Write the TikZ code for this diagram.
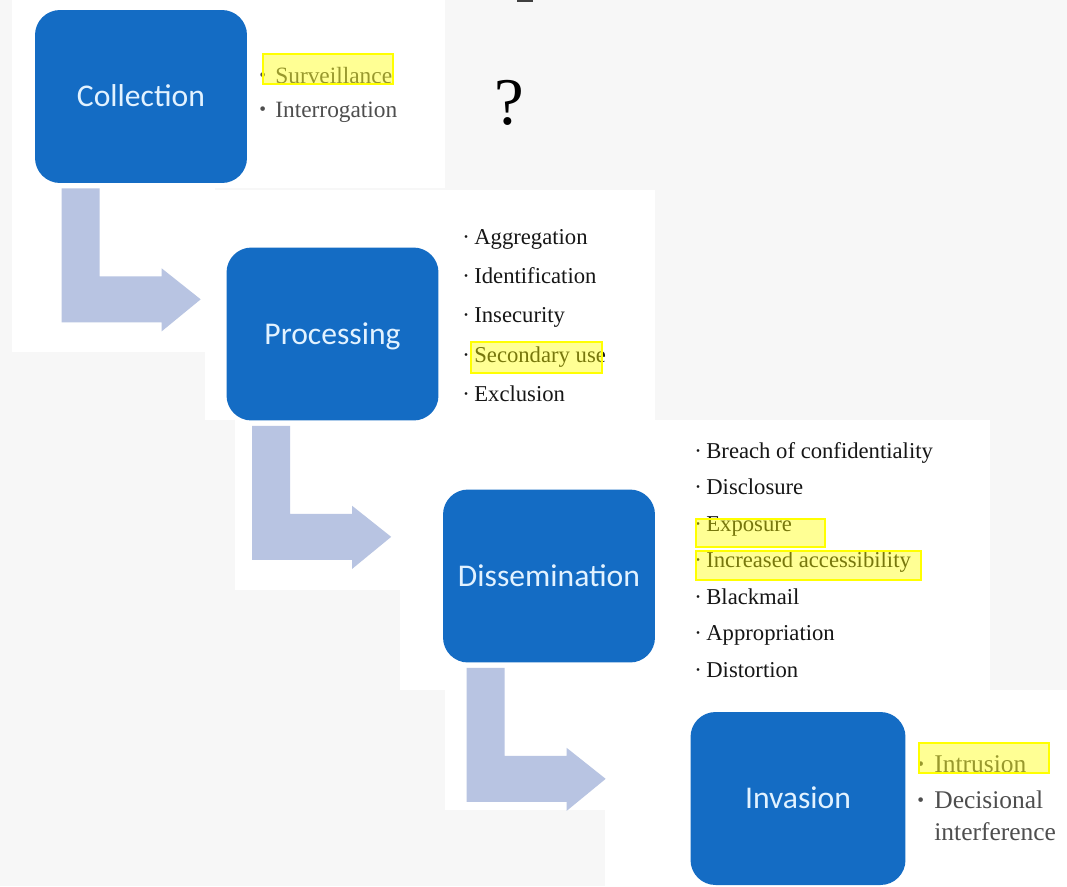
\documentclass[tikz,border=0pt]{standalone}
\usepackage{fontspec}
\setmainfont{Liberation Serif}
\newfontfamily\boxfont{Carlito}
\usetikzlibrary{calc}
\definecolor{boxblue}{RGB}{20,108,196}
\definecolor{boxtext}{RGB}{226,242,255}
\definecolor{arrowfill}{RGB}{184,196,226}
\definecolor{bgcol}{RGB}{247,247,247}
\definecolor{itemdark}{RGB}{22,22,22}
\definecolor{itemgray}{RGB}{78,78,78}
\definecolor{hlyellow}{RGB}{255,255,0}
\newcommand{\dotb}[1]{\makebox[#1][l]{\raisebox{0pt}{\textperiodcentered}}}
\newcommand{\bigb}[1]{\makebox[#1][l]{\raisebox{0.8pt}{\fontsize{11}{11}\selectfont\textbullet}}}
\begin{document}
\begin{tikzpicture}[x=0.02cm,y=-0.02cm,
  stage/.style={fill=boxblue, rounded corners=0.5cm, minimum width=4.24cm, minimum height=3.46cm,
    inner sep=0pt, text=boxtext, font=\boxfont\fontsize{18}{20}\selectfont,
    text height=11.6pt, text depth=0pt},
  itemd/.style={anchor=base west, inner sep=0pt, text=itemdark, font=\fontsize{12.9}{15}\selectfont},
  itemg/.style={anchor=base west, inner sep=0pt, text=itemgray, font=\fontsize{13.3}{16}\selectfont},
  itemgi/.style={itemg, font=\fontsize{14.5}{16}\selectfont},
  hl/.style={draw=hlyellow, line width=0.7pt, fill=hlyellow, fill opacity=0.42},
  panel/.style={fill=white},
  lshape/.style={fill=arrowfill}]
\useasboundingbox (0,0) rectangle (1067,886);
\fill[bgcol] (0,0) rectangle (1067,886);
% lighter panels
\fill[panel] (12,0) rectangle (445,188);
\fill[panel] (12,188) rectangle (215,352);
\fill[panel] (205,190) rectangle (655,420);
\fill[panel] (235,420) rectangle (430,590);
\fill[panel] (400,420) rectangle (990,690);
\fill[panel] (445,690) rectangle (610,810);
\fill[panel] (605,690) rectangle (1067,886);
% stray mark at top
\fill[black!75] (517,0) rectangle (533,2);
% stage boxes
\node[stage] (coll) at (141,96.5) {Collection};
\node[stage] (proc) at (332.5,334) {Processing};
\node[stage] (diss) at (549,576) {Dissemination};
\node[stage, minimum width=4.3cm] (inv) at (798,798.5) {Invasion};
% L-shaped arrows
\fill[lshape, shift={($(coll.south west)+(27,5)$)}]
  (0,0) -- (38,0) -- (38,88) -- (100,88) -- (100,80) -- (139,111) -- (100,143) -- (100,134) -- (0,134) -- cycle;
\fill[lshape, shift={($(proc.south west)+(26,5)$)}]
  (0,0) -- (38,0) -- (38,88) -- (100,88) -- (100,80) -- (139,111) -- (100,143) -- (100,134) -- (0,134) -- cycle;
\fill[lshape, shift={($(diss.south west)+(24,5)$)}]
  (0,0) -- (38,0) -- (38,88) -- (100,88) -- (100,80) -- (139,111) -- (100,143) -- (100,134) -- (0,134) -- cycle;
% question mark
\node[anchor=base, inner sep=0pt, font=\fontsize{38}{40}\selectfont] (qm) at (509,124) {?};
% Collection items
\node[itemg] (c1) at (259,83) {\bigb{0.32cm}Surveillance};
\node[itemg] (c2) at (259,117) {\bigb{0.32cm}Interrogation};
% Processing items
\node[itemd] (p1) at (462,244) {\dotb{0.24cm}Aggregation};
\node[itemd] (p2) at (462,283) {\dotb{0.24cm}Identification};
\node[itemd] (p3) at (462,322) {\dotb{0.24cm}Insecurity};
\node[itemd] (p4) at (462,362) {\dotb{0.24cm}Secondary use};
\node[itemd] (p5) at (462,401) {\dotb{0.24cm}Exclusion};
% Dissemination items
\node[itemd] (d1) at (694,458) {\dotb{0.24cm}Breach of confidentiality};
\node[itemd] (d2) at (694,494.5) {\dotb{0.24cm}Disclosure};
\node[itemd] (d3) at (694,531) {\dotb{0.24cm}Exposure};
\node[itemd] (d4) at (694,567.5) {\dotb{0.24cm}Increased accessibility};
\node[itemd] (d5) at (694,604) {\dotb{0.24cm}Blackmail};
\node[itemd] (d6) at (694,640.5) {\dotb{0.24cm}Appropriation};
\node[itemd] (d7) at (694,677) {\dotb{0.24cm}Distortion};
% Invasion items
\node[itemgi] (i1) at (917,772) {\bigb{0.34cm}Intrusion};
\node[itemgi] (i2) at (917,808) {\bigb{0.34cm}Decisional};
\node[itemgi] (i3) at (934,840) {interference};
% highlights
\draw[hl] (263,54) rectangle (393,84);
\draw[hl] (471,342) rectangle (602,373);
\draw[hl] (696,519) rectangle (825,547);
\draw[hl] (696,551) rectangle (921,580);
\draw[hl] (919,743) rectangle (1049,773);
\end{tikzpicture}
\end{document}
